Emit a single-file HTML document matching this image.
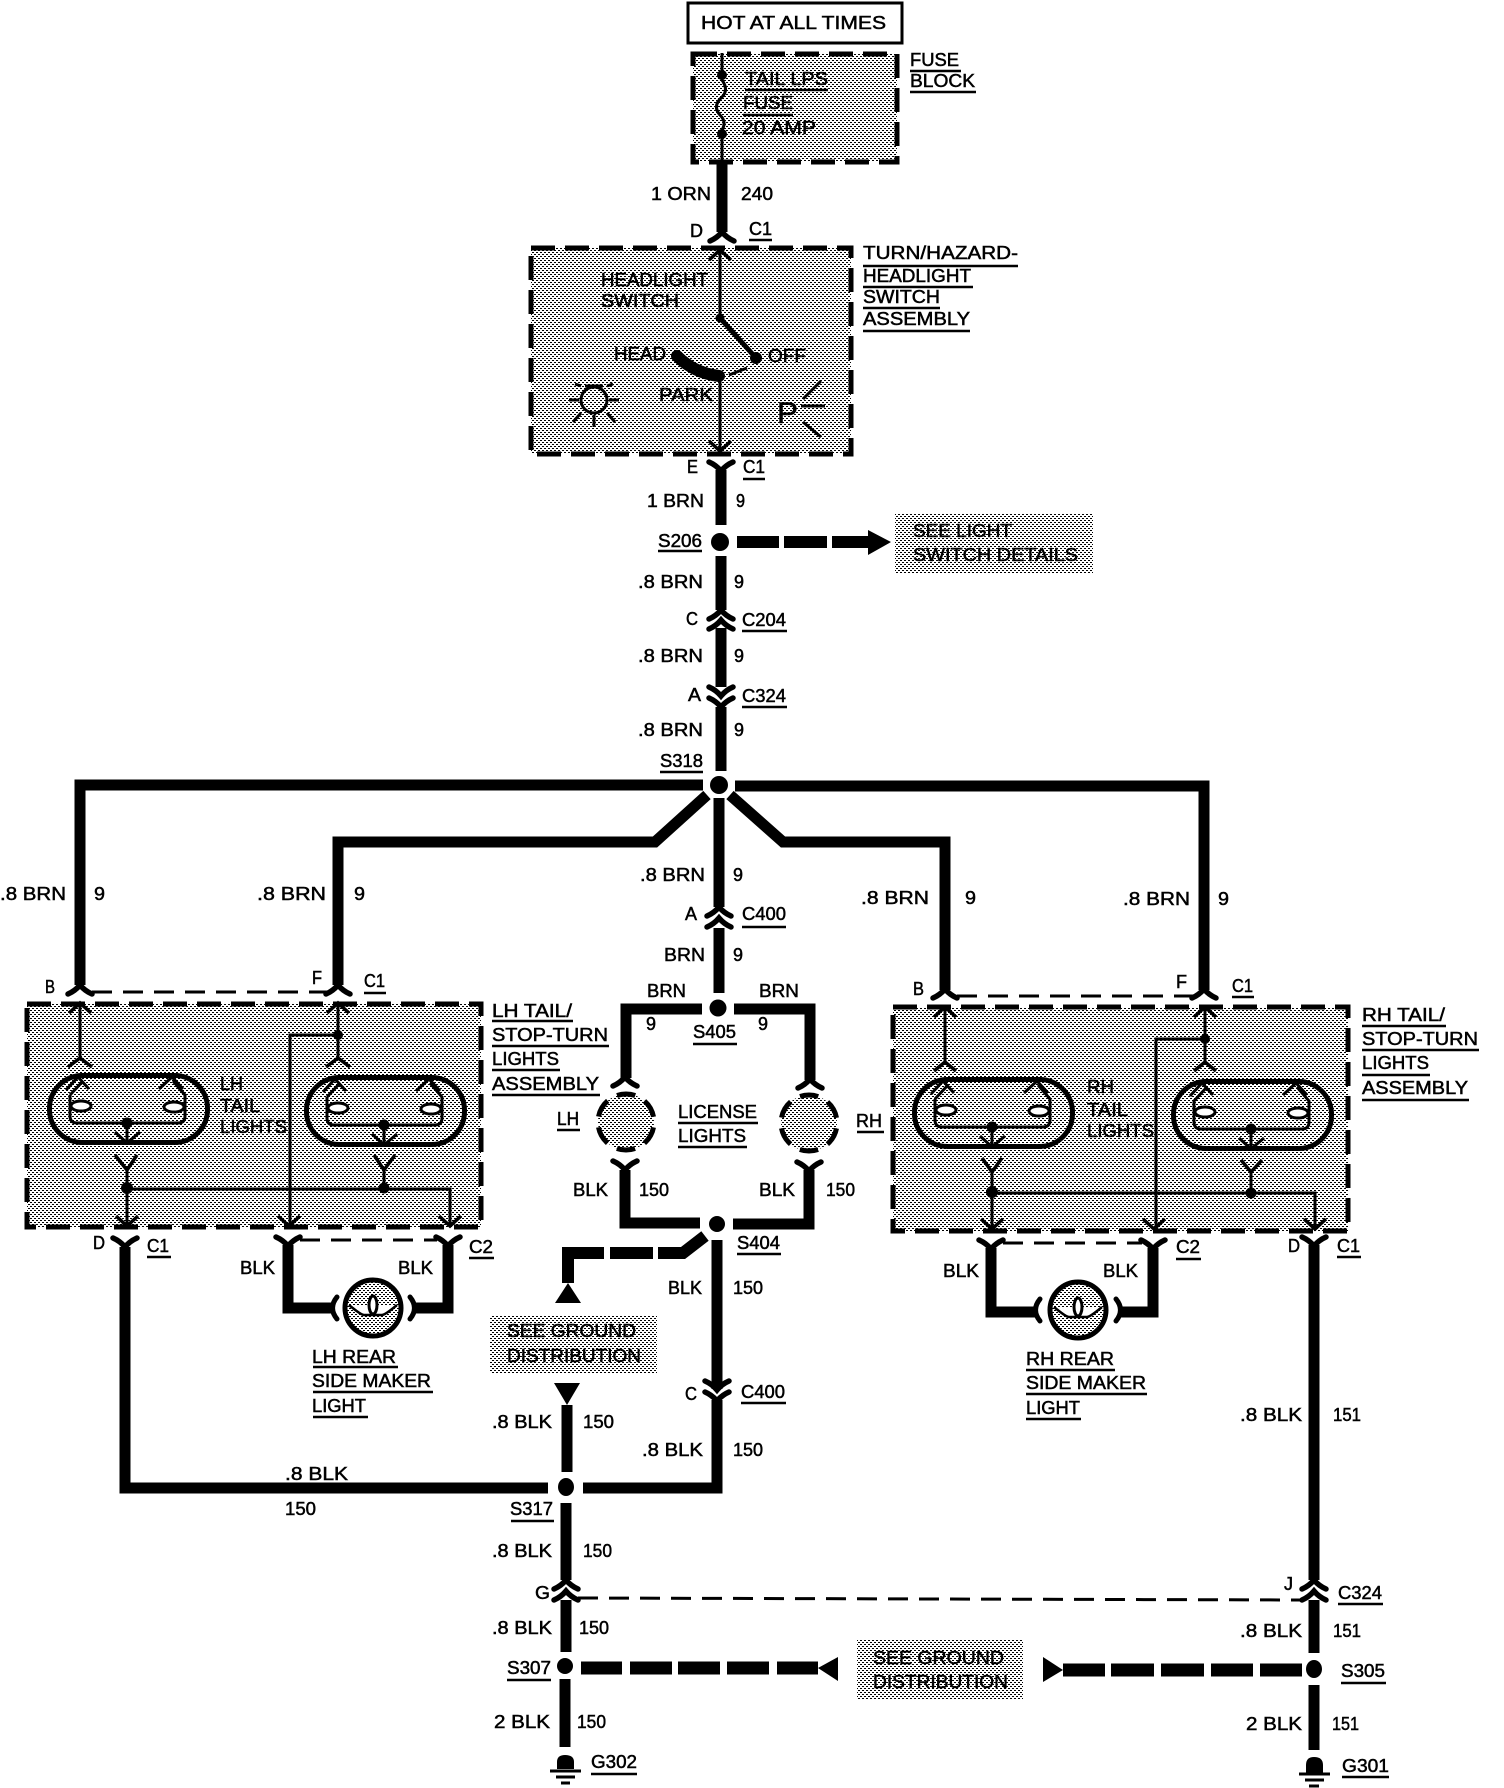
<!DOCTYPE html>
<html><head><meta charset="utf-8"><title>Tail lights wiring diagram</title>
<style>
html,body{margin:0;padding:0;background:#fff}
svg{display:block}
text{font:18px "Liberation Sans",sans-serif;fill:#000;stroke:#000;stroke-width:.5}
.w{fill:none;stroke:#000;stroke-width:11}
.t{fill:none;stroke:#000;stroke-width:3}
.d{fill:url(#p);stroke:#000;stroke-width:5;stroke-dasharray:24 10}
.l{fill:none;stroke:#000;stroke-width:3;stroke-dasharray:20 11}
.ul{stroke:#000;stroke-width:2.5}
.c{fill:url(#p);stroke:#000;stroke-width:5;stroke-dasharray:18.5 10.8;stroke-dashoffset:-5.4}
</style></head><body>
<svg width="1504" height="1788" viewBox="0 0 1504 1788" xmlns="http://www.w3.org/2000/svg">
<defs>
<pattern id="p" width="4" height="4" patternUnits="userSpaceOnUse"><rect width="4" height="4" fill="#fff"/><rect width="2" height="1" fill="#000"/><rect x="2" y="2" width="2" height="1" fill="#000"/></pattern>
<path id="u" d="M-12 9Q-5 6 0 0Q5 6 12 9" fill="none" stroke="#000" stroke-width="5.5" stroke-linecap="round"/>
<path id="y" d="M-12 -9Q-5 -6 0 0Q5 -6 12 -9" fill="none" stroke="#000" stroke-width="5.5" stroke-linecap="round"/>
<path id="au" d="M-11 10L0 0L11 10" fill="none" stroke="#000" stroke-width="3.5"/>
<path id="ad" d="M-11 -10L0 0L11 -10" fill="none" stroke="#000" stroke-width="3.5"/>
<g id="lamp">
<rect x="2.5" y="2.5" width="158" height="67" rx="33" fill="none" stroke="#000" stroke-width="5"/>
<path d="M23 22V43Q23 50 30 50H131Q138 50 138 43V22L126 8M23 22L36 8" fill="none" stroke="#000" stroke-width="3"/>
<path d="M19 17L31 4L42 16M112 16L125 4L136 16" fill="none" stroke="#000" stroke-width="3"/>
<ellipse cx="34" cy="33" rx="10" ry="5" fill="#fff" stroke="#000" stroke-width="3"/>
<ellipse cx="127" cy="34" rx="10" ry="5" fill="#fff" stroke="#000" stroke-width="3"/>
<circle cx="80" cy="50" r="5.5"/>
<path d="M80 50V70M68 59L80 70L93 59" fill="none" stroke="#000" stroke-width="3"/>
</g>
<g id="side">
<circle r="28" fill="url(#p)" stroke="#000" stroke-width="5"/>
<path d="M-24 -3Q-12 7 -9 7H9Q12 7 24 -3" fill="#fff" stroke="#000" stroke-width="2.5"/>
<ellipse cy="-3" rx="4" ry="9" fill="#fff" stroke="#000" stroke-width="3"/>
</g>
</defs>

<!-- Hot box -->
<rect x="688" y="3" width="214" height="40" fill="#fff" stroke="#000" stroke-width="3"/>
<text x="701" y="29" textLength="185" lengthAdjust="spacingAndGlyphs">HOT AT ALL TIMES</text>

<!-- Shaded boxes -->
<rect class="d" x="693" y="54" width="204" height="108"/>
<rect class="d" x="531" y="248" width="320" height="206"/>
<rect x="895" y="513" width="198" height="60" fill="url(#p)"/>
<rect class="d" x="27" y="1004" width="454" height="223"/>
<rect class="d" x="893" y="1007" width="455" height="224"/>
<rect x="490" y="1315" width="167" height="58" fill="url(#p)"/>
<rect x="857" y="1640" width="166" height="60" fill="url(#p)"/>
<circle class="c" cx="626" cy="1122" r="28"/>
<circle class="c" cx="809" cy="1123" r="28"/>

<!-- Thick wires -->
<path class="w" d="M722 160V232M721 470V525M721 556V610M721 628V687M721 707V771M703 785H80V985M735 786H1204V990M707 795L655 842H338V985M730 795L783 842H945V990M719 798V907M719 928V993M702 1009H626V1078M734 1009H810V1080M625 1170V1223H700M809 1170V1224H733M717 1240V1389M717 1400V1488H583M548 1488H125V1247M567 1405V1472M566 1503V1580M566 1600V1652M565 1679V1747M1314 1245V1580M1314 1600V1653M1314 1685V1750M288 1245V1308H332M448 1245V1308H415M991 1248V1312H1036M1153 1248V1312H1120"/>

<!-- Thick dashed -->
<path d="M737 542H779M784 542H827M832 542H868" fill="none" stroke="#000" stroke-width="12"/>
<polygon points="868,530 891,542 868,555"/>
<path d="M705 1236L683 1253H658M653 1253H610M604 1253H568V1283" fill="none" stroke="#000" stroke-width="12"/>
<polygon points="568,1283 581,1303 555,1303"/>
<polygon points="554,1383 580,1383 567,1405"/>
<path d="M581 1668H622M630 1668H672M678 1668H720M727 1668H769M777 1668H818" fill="none" stroke="#000" stroke-width="13"/>
<polygon points="818,1668 838,1657 838,1681"/>
<path d="M1063 1670H1105M1111 1670H1154M1161 1670H1204M1211 1670H1253M1260 1670H1302" fill="none" stroke="#000" stroke-width="13"/>
<polygon points="1043,1657 1063,1670 1043,1682"/>

<!-- Thin dashed -->
<path class="l" d="M92 992H328"/>
<path class="l" d="M957 996H1193"/>
<path class="l" d="M300 1240H437"/>
<path class="l" d="M1003 1243H1142"/>
<path class="l" d="M578 1598L1300 1600"/>

<!-- Splice dots -->
<circle cx="720" cy="542" r="9"/>
<circle cx="719" cy="785" r="9"/>
<circle cx="718" cy="1008" r="8.5"/>
<circle cx="717" cy="1224" r="8"/>
<ellipse cx="566" cy="1487" rx="8" ry="9"/>
<circle cx="565" cy="1666" r="8"/>
<ellipse cx="1314" cy="1669" rx="8" ry="9"/>

<!-- Connectors -->
<use href="#u" x="722" y="232"/>
<use href="#y" x="721" y="471"/>
<use href="#u" x="721" y="610"/><use href="#u" x="721" y="620"/>
<use href="#y" x="721" y="696"/><use href="#y" x="721" y="707"/>
<use href="#u" x="719" y="907"/><use href="#u" x="719" y="918"/>
<use href="#u" x="80" y="985"/><use href="#u" x="338" y="985"/>
<use href="#u" x="945" y="989"/><use href="#u" x="1204" y="989"/>
<use href="#u" x="625" y="1077"/><use href="#u" x="810" y="1079"/>
<use href="#y" x="625" y="1170"/><use href="#y" x="809" y="1171"/>
<use href="#y" x="125" y="1247"/><use href="#y" x="288" y="1246"/><use href="#y" x="448" y="1246"/>
<use href="#y" x="1314" y="1246"/><use href="#y" x="991" y="1249"/><use href="#y" x="1153" y="1249"/>
<use href="#y" x="717" y="1390"/><use href="#y" x="717" y="1401"/>
<use href="#u" x="566" y="1580"/><use href="#u" x="566" y="1591"/>
<use href="#u" x="1314" y="1580"/><use href="#u" x="1314" y="1591"/>

<!-- Fuse -->
<path class="t" d="M722 53V80Q729 90 722 97Q712 106 720 115Q727 122 722 130V160"/>
<circle cx="722" cy="75" r="5"/><circle cx="722" cy="134" r="5"/>

<!-- Headlight switch -->
<use href="#au" x="720" y="250"/>
<path class="t" d="M720 250V318M720 375V450"/>
<circle cx="720" cy="318" r="4.5"/>
<path d="M720 318L756 358" stroke="#000" stroke-width="5"/>
<circle cx="756" cy="358" r="6"/>
<path d="M747 368L729 375" stroke="#000" stroke-width="3"/>
<path d="M677 356Q694 373 719 376" fill="none" stroke="#000" stroke-width="12" stroke-linecap="round"/>
<use href="#ad" x="720" y="451"/>
<!-- Bulb -->
<circle cx="594" cy="400" r="13" fill="none" stroke="#000" stroke-width="3"/>
<path d="M585 386H603M569 400H579M609 400H619M594 415V427M581 413L573 422M607 413L615 422M581 386L575 384M607 386L613 384" fill="none" stroke="#000" stroke-width="3"/>
<!-- P icon -->
<text x="777" y="423" style="font-size:30px" textLength="21" lengthAdjust="spacingAndGlyphs">P</text>
<path d="M803 399L821 381M801 406H825M803 422L821 437" fill="none" stroke="#000" stroke-width="3"/>

<!-- LH assembly -->
<use href="#au" x="80" y="1003"/>
<path class="t" d="M80 1003V1058"/>
<use href="#au" x="338" y="1003"/>
<path class="t" d="M338 1003V1058M338 1035H290V1225"/>
<circle cx="338" cy="1035" r="5"/>
<path d="M68 1067L80 1058L92 1067M326 1067L338 1058L350 1067" fill="none" stroke="#000" stroke-width="3.5"/>
<use href="#lamp" x="47" y="1073"/>
<use href="#lamp" x="304" y="1075"/>
<path class="t" d="M127 1170V1225M127 1189H450V1225M384 1170V1189"/>
<path d="M115 1155L127 1170L137 1155M374 1155L384 1170L395 1155" fill="none" stroke="#000" stroke-width="3.5"/>
<circle cx="127" cy="1188" r="6"/><circle cx="384" cy="1188" r="5.5"/>
<use href="#ad" x="127" y="1226"/><use href="#ad" x="289" y="1226"/><use href="#ad" x="450" y="1226"/>

<!-- RH assembly -->
<use href="#au" x="945" y="1007"/>
<path class="t" d="M945 1007V1062"/>
<use href="#au" x="1205" y="1007"/>
<path class="t" d="M1205 1007V1062M1205 1039H1156V1228"/>
<circle cx="1205" cy="1039" r="5"/>
<path d="M934 1071L945 1062L956 1071M1194 1071L1205 1062L1216 1071" fill="none" stroke="#000" stroke-width="3.5"/>
<use href="#lamp" x="912" y="1077"/>
<use href="#lamp" x="1171" y="1079"/>
<path class="t" d="M992 1172V1228M992 1193H1315V1228M1251 1172V1193"/>
<path d="M982 1158L992 1172L1002 1158M1241 1160L1251 1172L1262 1160" fill="none" stroke="#000" stroke-width="3.5"/>
<circle cx="992" cy="1192" r="6"/><circle cx="1251" cy="1193" r="5.5"/>
<use href="#ad" x="992" y="1229"/><use href="#ad" x="1154" y="1229"/><use href="#ad" x="1315" y="1229"/>

<!-- Side marker lights -->
<use href="#side" x="373" y="1308"/>
<use href="#side" x="1078" y="1310"/>
<path d="M337 1297Q328 1308 337 1319M410 1297Q419 1308 410 1319M1040 1299Q1031 1310 1040 1321M1116 1299Q1125 1310 1116 1321" fill="none" stroke="#000" stroke-width="5" stroke-linecap="round"/>

<!-- Grounds -->
<path d="M557 1769V1762Q557 1755 565 1755Q574 1755 574 1762V1769Z"/>
<path d="M550 1771H581" stroke="#000" stroke-width="3"/><path d="M556 1777H575" stroke="#000" stroke-width="3"/><path d="M561 1783H570" stroke="#000" stroke-width="3"/>
<path d="M1306 1773V1765Q1306 1757 1314 1757Q1323 1757 1323 1765V1773Z"/>
<path d="M1299 1774H1330" stroke="#000" stroke-width="3"/><path d="M1305 1780H1324" stroke="#000" stroke-width="3"/><path d="M1309 1786H1319" stroke="#000" stroke-width="3"/>

<!-- Underlines -->
<path class="ul" d="M910 71H961M910 92H976M745 90H828M743 115H793M749 240H772M863 266H1018M863 287H973M863 308H940M863 331H970M743 479H765M658 551H702M742 631H787M742 707H787M660 772H703M742 927H786M364 993H386M1232 997H1254M693 1044H737M492 1021H573M492 1046H609M492 1070H560M492 1095H600M1362 1026H1446M1362 1050H1479M1362 1075H1430M1362 1100H1469M557 1130H580M857 1132H884M678 1123H758M678 1147H747M147 1257H171M469 1258H494M1176 1259H1201M1337 1257H1361M737 1254H781M313 1367H398M313 1392H433M313 1417H368M1026 1370H1115M1026 1394H1147M1026 1419H1081M741 1403H786M511 1521H554M1338 1604H1383M507 1680H551M1341 1683H1386M591 1774H637M1342 1777H1389"/>

<!-- Labels -->
<text x="910" y="66" textLength="49" lengthAdjust="spacingAndGlyphs">FUSE</text>
<text x="910" y="87" textLength="65" lengthAdjust="spacingAndGlyphs">BLOCK</text>
<text x="745" y="85" textLength="83" lengthAdjust="spacingAndGlyphs">TAIL LPS</text>
<text x="743" y="109" textLength="50" lengthAdjust="spacingAndGlyphs">FUSE</text>
<text x="742" y="134" textLength="74" lengthAdjust="spacingAndGlyphs">20 AMP</text>
<text x="651" y="200" textLength="60" lengthAdjust="spacingAndGlyphs">1 ORN</text>
<text x="741" y="200" textLength="32" lengthAdjust="spacingAndGlyphs">240</text>
<text x="690" y="237" textLength="13" lengthAdjust="spacingAndGlyphs">D</text>
<text x="749" y="235" textLength="23" lengthAdjust="spacingAndGlyphs">C1</text>
<text x="863" y="259" textLength="155" lengthAdjust="spacingAndGlyphs">TURN/HAZARD-</text>
<text x="863" y="282" textLength="108" lengthAdjust="spacingAndGlyphs">HEADLIGHT</text>
<text x="863" y="303" textLength="77" lengthAdjust="spacingAndGlyphs">SWITCH</text>
<text x="863" y="325" textLength="107" lengthAdjust="spacingAndGlyphs">ASSEMBLY</text>
<text x="601" y="286" textLength="107" lengthAdjust="spacingAndGlyphs">HEADLIGHT</text>
<text x="601" y="307" textLength="78" lengthAdjust="spacingAndGlyphs">SWITCH</text>
<text x="614" y="360" textLength="52" lengthAdjust="spacingAndGlyphs">HEAD</text>
<text x="768" y="362" textLength="38" lengthAdjust="spacingAndGlyphs">OFF</text>
<text x="659" y="401" textLength="54" lengthAdjust="spacingAndGlyphs">PARK</text>
<text x="687" y="473" textLength="11" lengthAdjust="spacingAndGlyphs">E</text>
<text x="743" y="473" textLength="22" lengthAdjust="spacingAndGlyphs">C1</text>
<text x="647" y="507" textLength="57" lengthAdjust="spacingAndGlyphs">1 BRN</text>
<text x="736" y="507" textLength="9" lengthAdjust="spacingAndGlyphs">9</text>
<text x="658" y="547" textLength="44" lengthAdjust="spacingAndGlyphs">S206</text>
<text x="913" y="537" textLength="99" lengthAdjust="spacingAndGlyphs">SEE LIGHT</text>
<text x="913" y="561" textLength="165" lengthAdjust="spacingAndGlyphs">SWITCH DETAILS</text>
<text x="638" y="588" textLength="65" lengthAdjust="spacingAndGlyphs">.8 BRN</text>
<text x="734" y="588" textLength="10" lengthAdjust="spacingAndGlyphs">9</text>
<text x="686" y="625" textLength="12" lengthAdjust="spacingAndGlyphs">C</text>
<text x="742" y="626" textLength="44" lengthAdjust="spacingAndGlyphs">C204</text>
<text x="638" y="662" textLength="65" lengthAdjust="spacingAndGlyphs">.8 BRN</text>
<text x="734" y="662" textLength="10" lengthAdjust="spacingAndGlyphs">9</text>
<text x="688" y="701" textLength="13" lengthAdjust="spacingAndGlyphs">A</text>
<text x="742" y="702" textLength="44" lengthAdjust="spacingAndGlyphs">C324</text>
<text x="638" y="736" textLength="65" lengthAdjust="spacingAndGlyphs">.8 BRN</text>
<text x="734" y="736" textLength="10" lengthAdjust="spacingAndGlyphs">9</text>
<text x="660" y="767" textLength="43" lengthAdjust="spacingAndGlyphs">S318</text>
<text x="0" y="900" textLength="66" lengthAdjust="spacingAndGlyphs">.8 BRN</text>
<text x="94" y="900" textLength="11" lengthAdjust="spacingAndGlyphs">9</text>
<text x="257" y="900" textLength="69" lengthAdjust="spacingAndGlyphs">.8 BRN</text>
<text x="354" y="900" textLength="11" lengthAdjust="spacingAndGlyphs">9</text>
<text x="640" y="881" textLength="65" lengthAdjust="spacingAndGlyphs">.8 BRN</text>
<text x="733" y="881" textLength="10" lengthAdjust="spacingAndGlyphs">9</text>
<text x="861" y="904" textLength="68" lengthAdjust="spacingAndGlyphs">.8 BRN</text>
<text x="965" y="904" textLength="11" lengthAdjust="spacingAndGlyphs">9</text>
<text x="1123" y="905" textLength="67" lengthAdjust="spacingAndGlyphs">.8 BRN</text>
<text x="1218" y="905" textLength="11" lengthAdjust="spacingAndGlyphs">9</text>
<text x="685" y="920" textLength="12" lengthAdjust="spacingAndGlyphs">A</text>
<text x="742" y="920" textLength="44" lengthAdjust="spacingAndGlyphs">C400</text>
<text x="664" y="961" textLength="41" lengthAdjust="spacingAndGlyphs">BRN</text>
<text x="733" y="961" textLength="10" lengthAdjust="spacingAndGlyphs">9</text>
<text x="647" y="997" textLength="39" lengthAdjust="spacingAndGlyphs">BRN</text>
<text x="759" y="997" textLength="40" lengthAdjust="spacingAndGlyphs">BRN</text>
<text x="646" y="1030" textLength="10" lengthAdjust="spacingAndGlyphs">9</text>
<text x="758" y="1030" textLength="10" lengthAdjust="spacingAndGlyphs">9</text>
<text x="693" y="1038" textLength="43" lengthAdjust="spacingAndGlyphs">S405</text>
<text x="45" y="993" textLength="10" lengthAdjust="spacingAndGlyphs">B</text>
<text x="312" y="984" textLength="10" lengthAdjust="spacingAndGlyphs">F</text>
<text x="364" y="987" textLength="21" lengthAdjust="spacingAndGlyphs">C1</text>
<text x="913" y="995" textLength="11" lengthAdjust="spacingAndGlyphs">B</text>
<text x="1176" y="988" textLength="11" lengthAdjust="spacingAndGlyphs">F</text>
<text x="1232" y="992" textLength="21" lengthAdjust="spacingAndGlyphs">C1</text>
<text x="492" y="1017" textLength="80" lengthAdjust="spacingAndGlyphs">LH TAIL/</text>
<text x="492" y="1041" textLength="116" lengthAdjust="spacingAndGlyphs">STOP-TURN</text>
<text x="492" y="1065" textLength="67" lengthAdjust="spacingAndGlyphs">LIGHTS</text>
<text x="492" y="1090" textLength="107" lengthAdjust="spacingAndGlyphs">ASSEMBLY</text>
<text x="1362" y="1021" textLength="83" lengthAdjust="spacingAndGlyphs">RH TAIL/</text>
<text x="1362" y="1045" textLength="116" lengthAdjust="spacingAndGlyphs">STOP-TURN</text>
<text x="1362" y="1069" textLength="67" lengthAdjust="spacingAndGlyphs">LIGHTS</text>
<text x="1362" y="1094" textLength="106" lengthAdjust="spacingAndGlyphs">ASSEMBLY</text>
<text x="220" y="1090" textLength="23" lengthAdjust="spacingAndGlyphs">LH</text>
<text x="220" y="1112" textLength="40" lengthAdjust="spacingAndGlyphs">TAIL</text>
<text x="220" y="1133" textLength="67" lengthAdjust="spacingAndGlyphs">LIGHTS</text>
<text x="1087" y="1093" textLength="27" lengthAdjust="spacingAndGlyphs">RH</text>
<text x="1087" y="1116" textLength="41" lengthAdjust="spacingAndGlyphs">TAIL</text>
<text x="1087" y="1137" textLength="67" lengthAdjust="spacingAndGlyphs">LIGHTS</text>
<text x="557" y="1125" textLength="22" lengthAdjust="spacingAndGlyphs">LH</text>
<text x="856" y="1127" textLength="26" lengthAdjust="spacingAndGlyphs">RH</text>
<text x="678" y="1118" textLength="79" lengthAdjust="spacingAndGlyphs">LICENSE</text>
<text x="678" y="1142" textLength="68" lengthAdjust="spacingAndGlyphs">LIGHTS</text>
<text x="573" y="1196" textLength="35" lengthAdjust="spacingAndGlyphs">BLK</text>
<text x="639" y="1196" textLength="30" lengthAdjust="spacingAndGlyphs">150</text>
<text x="759" y="1196" textLength="36" lengthAdjust="spacingAndGlyphs">BLK</text>
<text x="826" y="1196" textLength="29" lengthAdjust="spacingAndGlyphs">150</text>
<text x="737" y="1249" textLength="43" lengthAdjust="spacingAndGlyphs">S404</text>
<text x="93" y="1249" textLength="12" lengthAdjust="spacingAndGlyphs">D</text>
<text x="147" y="1252" textLength="22" lengthAdjust="spacingAndGlyphs">C1</text>
<text x="469" y="1253" textLength="24" lengthAdjust="spacingAndGlyphs">C2</text>
<text x="1176" y="1253" textLength="24" lengthAdjust="spacingAndGlyphs">C2</text>
<text x="1288" y="1252" textLength="12" lengthAdjust="spacingAndGlyphs">D</text>
<text x="1337" y="1252" textLength="23" lengthAdjust="spacingAndGlyphs">C1</text>
<text x="240" y="1274" textLength="35" lengthAdjust="spacingAndGlyphs">BLK</text>
<text x="398" y="1274" textLength="35" lengthAdjust="spacingAndGlyphs">BLK</text>
<text x="943" y="1277" textLength="36" lengthAdjust="spacingAndGlyphs">BLK</text>
<text x="1103" y="1277" textLength="35" lengthAdjust="spacingAndGlyphs">BLK</text>
<text x="668" y="1294" textLength="34" lengthAdjust="spacingAndGlyphs">BLK</text>
<text x="733" y="1294" textLength="30" lengthAdjust="spacingAndGlyphs">150</text>
<text x="507" y="1337" textLength="129" lengthAdjust="spacingAndGlyphs">SEE GROUND</text>
<text x="507" y="1362" textLength="134" lengthAdjust="spacingAndGlyphs">DISTRIBUTION</text>
<text x="312" y="1363" textLength="84" lengthAdjust="spacingAndGlyphs">LH REAR</text>
<text x="312" y="1387" textLength="119" lengthAdjust="spacingAndGlyphs">SIDE MAKER</text>
<text x="312" y="1412" textLength="54" lengthAdjust="spacingAndGlyphs">LIGHT</text>
<text x="1026" y="1365" textLength="88" lengthAdjust="spacingAndGlyphs">RH REAR</text>
<text x="1026" y="1389" textLength="120" lengthAdjust="spacingAndGlyphs">SIDE MAKER</text>
<text x="1026" y="1414" textLength="54" lengthAdjust="spacingAndGlyphs">LIGHT</text>
<text x="685" y="1400" textLength="12" lengthAdjust="spacingAndGlyphs">C</text>
<text x="741" y="1398" textLength="44" lengthAdjust="spacingAndGlyphs">C400</text>
<text x="1240" y="1421" textLength="62" lengthAdjust="spacingAndGlyphs">.8 BLK</text>
<text x="1333" y="1421" textLength="28" lengthAdjust="spacingAndGlyphs">151</text>
<text x="492" y="1428" textLength="60" lengthAdjust="spacingAndGlyphs">.8 BLK</text>
<text x="583" y="1428" textLength="31" lengthAdjust="spacingAndGlyphs">150</text>
<text x="642" y="1456" textLength="61" lengthAdjust="spacingAndGlyphs">.8 BLK</text>
<text x="733" y="1456" textLength="30" lengthAdjust="spacingAndGlyphs">150</text>
<text x="285" y="1480" textLength="63" lengthAdjust="spacingAndGlyphs">.8 BLK</text>
<text x="285" y="1515" textLength="31" lengthAdjust="spacingAndGlyphs">150</text>
<text x="510" y="1515" textLength="43" lengthAdjust="spacingAndGlyphs">S317</text>
<text x="492" y="1557" textLength="60" lengthAdjust="spacingAndGlyphs">.8 BLK</text>
<text x="583" y="1557" textLength="29" lengthAdjust="spacingAndGlyphs">150</text>
<text x="1284" y="1590" textLength="9" lengthAdjust="spacingAndGlyphs">J</text>
<text x="535" y="1599" textLength="15" lengthAdjust="spacingAndGlyphs">G</text>
<text x="1338" y="1599" textLength="44" lengthAdjust="spacingAndGlyphs">C324</text>
<text x="492" y="1634" textLength="60" lengthAdjust="spacingAndGlyphs">.8 BLK</text>
<text x="579" y="1634" textLength="30" lengthAdjust="spacingAndGlyphs">150</text>
<text x="1240" y="1637" textLength="62" lengthAdjust="spacingAndGlyphs">.8 BLK</text>
<text x="1333" y="1637" textLength="28" lengthAdjust="spacingAndGlyphs">151</text>
<text x="873" y="1664" textLength="131" lengthAdjust="spacingAndGlyphs">SEE GROUND</text>
<text x="873" y="1688" textLength="135" lengthAdjust="spacingAndGlyphs">DISTRIBUTION</text>
<text x="507" y="1674" textLength="44" lengthAdjust="spacingAndGlyphs">S307</text>
<text x="1341" y="1677" textLength="44" lengthAdjust="spacingAndGlyphs">S305</text>
<text x="494" y="1728" textLength="56" lengthAdjust="spacingAndGlyphs">2 BLK</text>
<text x="577" y="1728" textLength="29" lengthAdjust="spacingAndGlyphs">150</text>
<text x="1246" y="1730" textLength="56" lengthAdjust="spacingAndGlyphs">2 BLK</text>
<text x="1332" y="1730" textLength="27" lengthAdjust="spacingAndGlyphs">151</text>
<text x="591" y="1768" textLength="46" lengthAdjust="spacingAndGlyphs">G302</text>
<text x="1342" y="1772" textLength="47" lengthAdjust="spacingAndGlyphs">G301</text>
</svg>
</body></html>
